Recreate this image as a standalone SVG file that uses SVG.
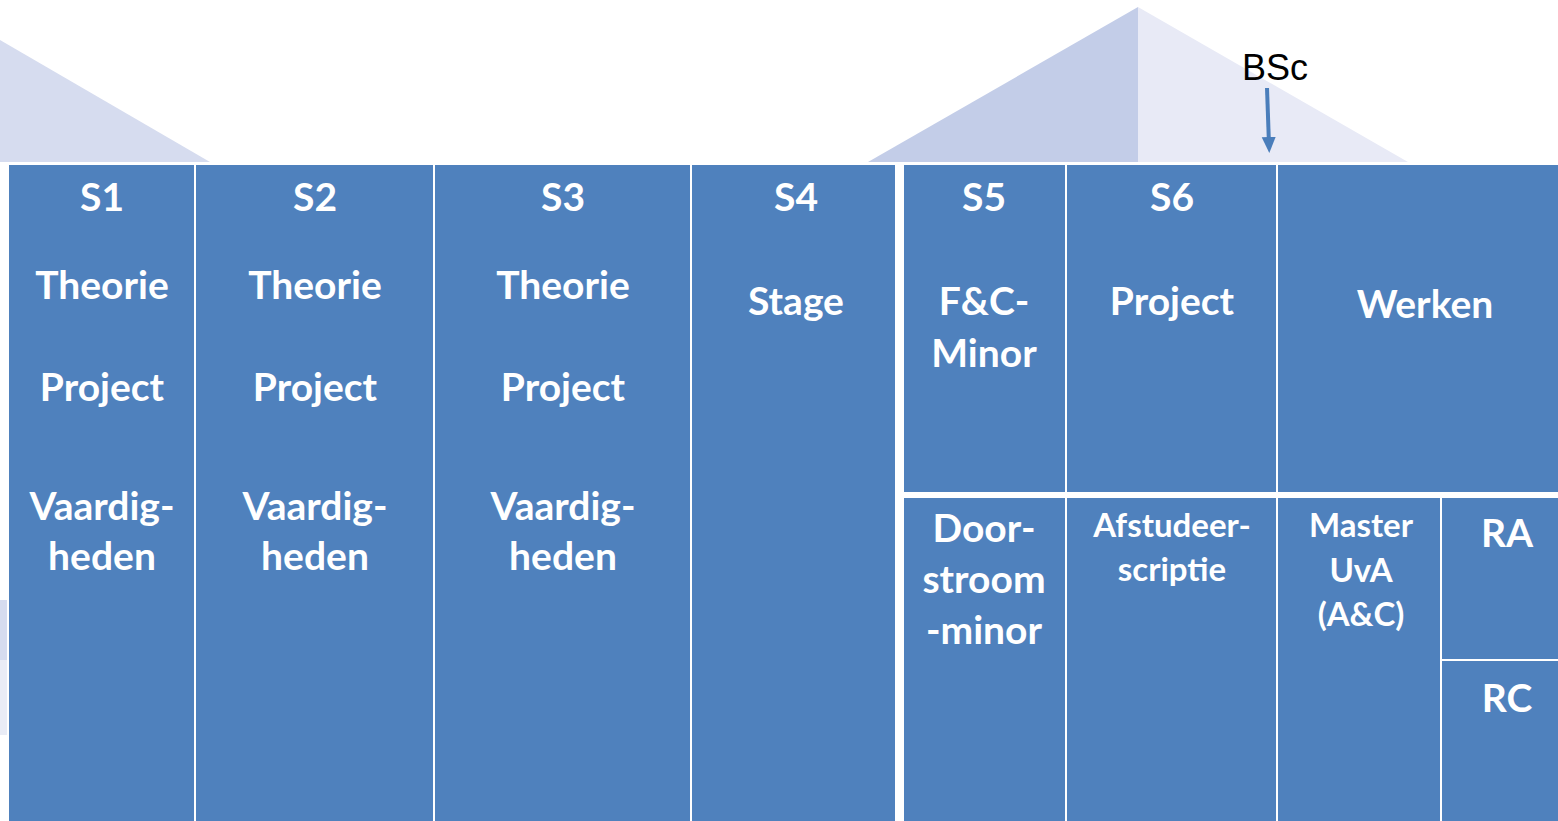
<svg xmlns="http://www.w3.org/2000/svg" width="1558" height="821" viewBox="0 0 1558 821">
<style>
.b{fill:#4f81bd;stroke:#ffffff;stroke-width:2}
.t{font-family:Lato,"Open Sans","Liberation Sans",sans-serif;font-weight:bold;fill:#ffffff;text-anchor:middle;font-size:39px}
.s{font-size:33px}
</style>
<defs>
<marker id="ah" markerWidth="16" markerHeight="16" refX="2" refY="7" orient="auto" markerUnits="userSpaceOnUse" viewBox="0 0 16 14">
<path d="M0,0 L16,7 L0,14 Z" fill="#4a7ebb"/>
</marker>
</defs>
<rect width="1558" height="821" fill="#ffffff"/>
<g id="roofs">
<polygon points="0,40 210,162 0,162" fill="#d6dcef"/>
<polygon points="0,600 8,600 8,660 0,660" fill="#d6dcef"/>
<polygon points="0,660 8,660 8,735 0,735" fill="#e9ecf6"/>
<polygon points="868,162 1138,7 1138,162" fill="#c3cde8"/>
<polygon points="1138,7 1408,162 1138,162" fill="#e8eaf6"/>
</g>
<g id="connectors">
<line x1="1267" y1="88" x2="1268.8" y2="139" stroke="#4a7ebb" stroke-width="4" marker-end="url(#ah)"/>
</g>
<g id="bsc"><text x="1275" y="80" font-family="'Liberation Sans',Arial,sans-serif" font-size="36" text-anchor="middle" fill="#000000">BSc</text></g>
<rect x="896" y="163" width="7" height="658" fill="#ffffff"/>
<g id="s1"><rect class="b" x="8" y="164" width="187" height="660"/>
<text class="t" x="102" y="211">S1</text><text class="t" x="102" y="299">Theorie</text><text class="t" x="102" y="401">Project</text><text class="t" x="102" y="520">Vaardig-</text><text class="t" x="102" y="570">heden</text></g>
<g id="s2"><rect class="b" x="195" y="164" width="239" height="660"/>
<text class="t" x="315" y="211">S2</text><text class="t" x="315" y="299">Theorie</text><text class="t" x="315" y="401">Project</text><text class="t" x="315" y="520">Vaardig-</text><text class="t" x="315" y="570">heden</text></g>
<g id="s3"><rect class="b" x="434" y="164" width="257" height="660"/>
<text class="t" x="563" y="211">S3</text><text class="t" x="563" y="299">Theorie</text><text class="t" x="563" y="401">Project</text><text class="t" x="563" y="520">Vaardig-</text><text class="t" x="563" y="570">heden</text></g>
<g id="s4"><rect class="b" x="691" y="164" width="205" height="660"/>
<text class="t" x="796" y="211">S4</text><text class="t" x="796" y="315">Stage</text></g>
<g id="s5"><rect class="b" x="903" y="164" width="163" height="330"/>
<text class="t" x="984" y="211">S5</text><text class="t" x="984" y="315">F&amp;C-</text><text class="t" x="984" y="367">Minor</text></g>
<g id="s6"><rect class="b" x="1066" y="164" width="211" height="330"/>
<text class="t" x="1172" y="211">S6</text><text class="t" x="1172" y="315">Project</text></g>
<g id="werken"><rect class="b" x="1277" y="164" width="283" height="330"/>
<text class="t" x="1425" y="318">Werken</text></g>
<rect x="903" y="492" width="655" height="6" fill="#ffffff"/>
<g id="door"><rect class="b" x="903" y="497" width="163" height="327"/>
<text class="t" x="984" y="542">Door-</text><text class="t" x="984" y="593">stroom</text><text class="t" x="984" y="644">-minor</text></g>
<g id="afstudeer"><rect class="b" x="1066" y="497" width="211" height="327"/>
<text class="t s" x="1172" y="537">Afstudeer-</text><text class="t s" x="1172" y="581">scriptie</text></g>
<g id="master"><rect class="b" x="1277" y="497" width="164" height="327"/>
<text class="t s" x="1361" y="537">Master</text><text class="t s" x="1361" y="582">UvA</text><text class="t s" x="1361" y="626">(A&amp;C)</text></g>
<g id="ra"><rect class="b" x="1441" y="497" width="119" height="163"/>
<text class="t" x="1507" y="547" font-size="41">RA</text></g>
<g id="rc"><rect class="b" x="1441" y="660" width="119" height="164"/>
<text class="t" x="1507" y="712" font-size="41">RC</text></g>
</svg>
